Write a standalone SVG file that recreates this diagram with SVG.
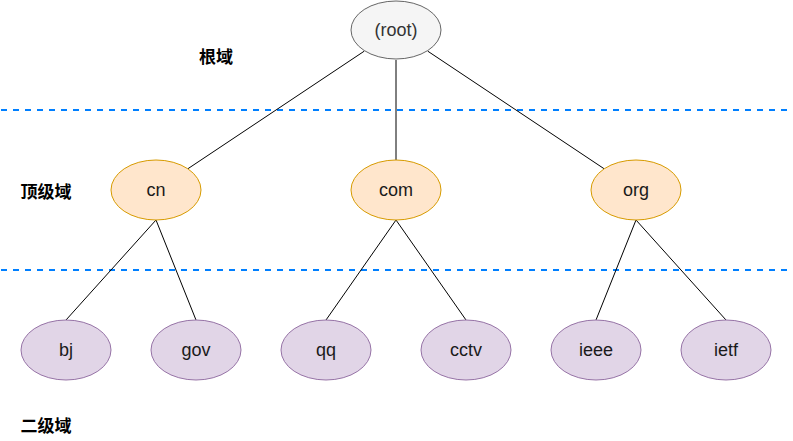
<svg xmlns="http://www.w3.org/2000/svg" width="793" height="441" viewBox="0 0 793 441">
<style>
.root{fill:#f5f5f5;stroke:#666666;stroke-width:1}
.tld{fill:#ffe6cc;stroke:#d79b00;stroke-width:1}
.sld{fill:#e1d5e7;stroke:#9673a6;stroke-width:1}
.lbl{font-family:"Liberation Sans",Arial,sans-serif;font-size:18px;fill:#1a1a1a;text-anchor:middle;dominant-baseline:central}
.rootlbl{fill:#333333}
.zone{font-family:"Noto Sans CJK SC","Noto Sans",sans-serif;font-size:17px;font-weight:bold;fill:#000;text-anchor:middle;dominant-baseline:central}
.sep{stroke:#007FFF;stroke-width:2;stroke-dasharray:6 6;fill:none}
.edge{stroke:#000;stroke-width:1;fill:none}
</style>
<rect width="793" height="441" fill="#ffffff"/>
<g id="separators">
<line class="sep" x1="1" y1="110" x2="793" y2="110"/>
<line class="sep" x1="1" y1="270" x2="793" y2="270"/>
</g>
<g id="zones">
<text class="zone" x="216" y="55">根域</text>
<text class="zone" x="46" y="190">顶级域</text>
<text class="zone" x="46" y="424">二级域</text>
</g>
<g id="connectors">
<line class="edge" x1="364.2" y1="51.2" x2="187.8" y2="168.8"/>
<line class="edge" x1="396" y1="60" x2="396" y2="160"/>
<line class="edge" x1="427.8" y1="51.2" x2="604.2" y2="168.8"/>
<line class="edge" x1="156" y1="220" x2="66" y2="320"/>
<line class="edge" x1="156" y1="220" x2="196" y2="320"/>
<line class="edge" x1="396" y1="220" x2="326" y2="320"/>
<line class="edge" x1="396" y1="220" x2="466" y2="320"/>
<line class="edge" x1="636" y1="220" x2="596" y2="320"/>
<line class="edge" x1="636" y1="220" x2="726" y2="320"/>
</g>
<g id="node-root"><ellipse class="root" cx="396" cy="30" rx="45" ry="29"/><text class="lbl rootlbl" x="396" y="30">(root)</text></g>
<g id="node-cn"><ellipse class="tld" cx="156" cy="190" rx="45" ry="30"/><text class="lbl" x="156" y="190">cn</text></g>
<g id="node-com"><ellipse class="tld" cx="396" cy="190" rx="45" ry="30"/><text class="lbl" x="396" y="190">com</text></g>
<g id="node-org"><ellipse class="tld" cx="636" cy="190" rx="45" ry="30"/><text class="lbl" x="636" y="190">org</text></g>
<g id="node-bj"><ellipse class="sld" cx="66" cy="350" rx="45" ry="30"/><text class="lbl" x="66" y="350">bj</text></g>
<g id="node-gov"><ellipse class="sld" cx="196" cy="350" rx="45" ry="30"/><text class="lbl" x="196" y="350">gov</text></g>
<g id="node-qq"><ellipse class="sld" cx="326" cy="350" rx="45" ry="30"/><text class="lbl" x="326" y="350">qq</text></g>
<g id="node-cctv"><ellipse class="sld" cx="466" cy="350" rx="45" ry="30"/><text class="lbl" x="466" y="350">cctv</text></g>
<g id="node-ieee"><ellipse class="sld" cx="596" cy="350" rx="45" ry="30"/><text class="lbl" x="596" y="350">ieee</text></g>
<g id="node-ietf"><ellipse class="sld" cx="726" cy="350" rx="45" ry="30"/><text class="lbl" x="726" y="350">ietf</text></g>
</svg>
